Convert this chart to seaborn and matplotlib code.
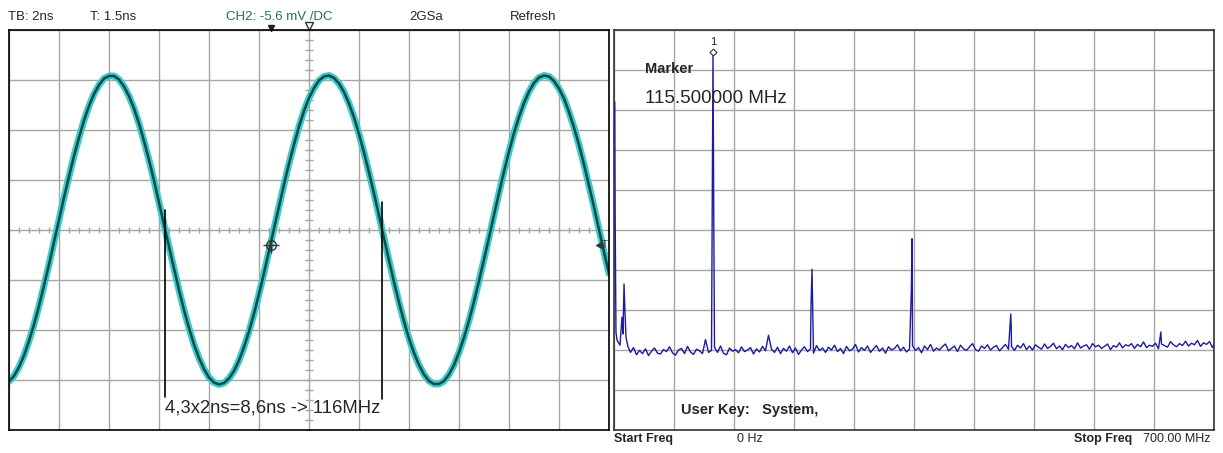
import numpy as np
import pandas as pd
import matplotlib
matplotlib.use("Agg")
import matplotlib.pyplot as plt
import seaborn as sns

# ---- scope trace, in divisions, sampled every 0.2 ns (TB 2 ns/div) ----
wave_div = [
    -3.03, -2.92, -2.74, -2.51, -2.22, -1.89, -1.52, -1.11, -0.69, -0.24,
    0.20, 0.65, 1.07, 1.48, 1.85, 2.19, 2.48, 2.72, 2.90, 3.03,
    3.08, 3.08, 3.01, 2.87, 2.68, 2.43, 2.13, 1.78, 1.40, 0.99,
    0.55, 0.11, -0.33, -0.77, -1.20, -1.60, -1.96, -2.29, -2.56, -2.78,
    -2.95, -3.05, -3.09, -3.06, -2.97, -2.82, -2.61, -2.34, -2.03, -1.67,
    -1.28, -0.86, -0.42, 0.03, 0.47, 0.91, 1.33, 1.71, 2.07, 2.38,
    2.64, 2.84, 2.99, 3.07, 3.09, 3.04, 2.93, 2.76, 2.53, 2.25,
    1.92, 1.55, 1.15, 0.73, 0.29, -0.16, -0.61, -1.04, -1.45, -1.83,
    -2.17, -2.46, -2.70, -2.89, -3.02, -3.08, -3.08, -3.02, -2.89, -2.70,
    -2.45, -2.15, -1.81, -1.43, -1.02, -0.59, -0.15, 0.30, 0.74, 1.17,
    1.57, 1.94, 2.26, 2.54, 2.77, 2.94, 3.05, 3.09, 3.07, 2.98,
    2.83, 2.63, 2.36, 2.05, 1.70, 1.31, 0.89, 0.46, 0.01, -0.44,
    -0.87,
]
wave_t = np.arange(len(wave_div)) * 0.2

cursor_t = [6.24, 14.92]
cursor_top = [0.41, 0.57]
cursor_bot = [-3.33, -3.37]

# ---- spectrum: noise floor every 3.5 MHz + peaks (dBm, 10 dB/div) ----
noise_db = [
    -80.6, -79.4, -81.2, -80.1, -80.9, -79.7, -81.4, -80.3, -79.5, -80.8, -81.0, -79.9, -80.4,
    -79.2, -80.7, -81.3, -80.0, -79.6, -80.9, -79.1, -80.5, -81.1, -79.8, -80.2, -80.9, -77.4,
    -80.6, -80.1, -79.3, -80.6, -79.0, -80.8, -81.2, -79.5, -80.3, -79.9, -80.7, -79.2, -80.4,
    -80.0, -79.4, -81.0, -79.7, -80.5, -79.1, -80.2, -76.3, -79.8, -80.6, -79.3, -80.9, -79.6,
    -80.3, -79.0, -80.7, -79.5, -81.1, -80.0, -79.2, -80.4, -79.7, -80.8, -78.9, -80.1, -79.5,
    -80.6, -79.3, -80.0, -78.8, -80.4, -79.6, -80.9, -79.1, -80.2, -79.8, -78.6, -80.5, -79.4,
    -80.1, -79.0, -80.6, -79.7, -78.9, -80.3, -79.5, -80.8, -79.2, -80.0, -79.6, -78.7, -80.2,
    -79.3, -80.5, -79.8, -78.9, -80.1, -79.4, -80.7, -79.0, -79.9, -78.6, -80.3, -79.5, -80.0,
    -79.1, -78.5, -80.2, -79.6, -79.0, -80.4, -78.8, -79.7, -80.1, -79.2, -78.4, -79.9, -80.3,
    -79.0, -79.6, -78.7, -80.0, -79.3, -78.9, -80.2, -79.4, -78.6, -79.8, -79.1, -80.1, -78.8,
    -79.5, -78.4, -79.9, -79.0, -80.0, -78.7, -79.3, -79.8, -78.5, -79.6, -79.1, -78.3, -79.7,
    -79.0, -79.9, -78.6, -79.4, -78.9, -79.7, -78.2, -79.5, -79.0, -78.7, -79.8, -78.4, -79.2,
    -78.8, -79.6, -79.1, -78.5, -79.9, -78.9, -79.3, -78.2, -79.5, -78.7, -79.0, -78.4, -79.6,
    -78.6, -79.2, -78.0, -79.4, -78.8, -79.1, -78.3, -79.7, -78.5, -78.9, -79.3, -77.9, -78.7,
    -79.2, -78.4, -78.9, -77.8, -79.0, -78.3, -78.7, -77.6, -79.1, -78.2, -78.6, -77.9, -79.4,
]
noise_mhz = 19.25 + 3.5 * np.arange(len(noise_db))

peak_mhz = [0.9, 1.3, 2.3, 3.5, 7.0, 9.3, 10.5, 11.7, 12.8, 14.0, 16.3,
            115.5, 116.3, 229.8, 231.0, 346.9, 347.7, 348.1,
            462.9, 463.5, 638.0, 700.0]
peak_db = [-18.0, -45.0, -75.5, -77.5, -78.8, -71.8, -76.0, -63.5, -70.5, -76.8, -79.2,
           -6.25, -42.5, -69.5, -59.8, -65.2, -52.2, -66.0,
           -71.0, -74.5, -75.5, -78.6]

marker_mhz = 115.5
marker_db = -5.6

spec = pd.concat([
    pd.DataFrame({"MHz": noise_mhz, "dB": noise_db}),
    pd.DataFrame({"MHz": peak_mhz, "dB": peak_db}),
]).sort_values("MHz", kind="mergesort")

sns.set_style("white")
plt.rcParams["font.family"] = ["Liberation Sans", "DejaVu Sans"]

W, H = 1223, 453
fig = plt.figure(figsize=(W / 100, H / 100), dpi=100)
ax1 = fig.add_axes([9 / W, 23 / H, 600 / W, 400 / H])
ax2 = fig.add_axes([614 / W, 23 / H, 600 / W, 400 / H])

gridc = "#a6a6a6"

# left: scope
ax1.set_xlim(0, 24)
ax1.set_ylim(-4, 4)
ax1.set_xticks(np.arange(0, 25, 2))
ax1.set_yticks(np.arange(-4, 5, 1))
ax1.grid(True, color=gridc, lw=1)
ax1.tick_params(length=0, labelbottom=False, labelleft=False)
for s in ax1.spines.values():
    s.set_color("black")
    s.set_linewidth(1.2)
# minor ticks on center lines
ax1.plot(np.arange(0, 24.01, 0.4), np.zeros(61), ls="", marker="|", ms=5, color=gridc, mew=1)
ax1.plot(np.full(41, 12.0), np.arange(-4, 4.01, 0.2), ls="", marker="_", ms=6, color=gridc, mew=1)

sns.lineplot(x=wave_t, y=wave_div, ax=ax1, color="#3ccaca", lw=5, sort=False, estimator=None)
sns.lineplot(x=wave_t, y=wave_div, ax=ax1, color="#124a4a", lw=1.8, sort=False, estimator=None)
ax1.set_xlabel("")
ax1.set_ylabel("")

for t, a, b in zip(cursor_t, cursor_top, cursor_bot):
    ax1.plot([t, t], [b, a], color="black", lw=1.2)
ax1.text(6.24, -3.56, "4,3x2ns=8,6ns -> 116MHz", fontsize=13.3, va="center", ha="left")

ax1.plot([10.48], [-0.3], marker="o", mfc="none", mec="#333333", ms=7, mew=1)
ax1.plot([10.48], [-0.3], marker="+", color="#333333", ms=11, mew=1)
ax1.plot([23.6], [-0.3], marker="<", color="#333333", ms=4)
ax1.text(23.7, -0.3, "T", fontsize=7, va="center", ha="left", color="#333333")
ax1.plot([10.48], [4.05], marker="v", color="#222222", ms=4, clip_on=False)
ax1.plot([12.0], [4.08], marker="v", mfc="white", mec="#333333", ms=6, clip_on=False)

# right: spectrum
ax2.set_xlim(0, 700)
ax2.set_ylim(-100, 0)
ax2.set_xticks(np.arange(0, 701, 70))
ax2.set_yticks(np.arange(-100, 1, 10))
ax2.grid(True, color=gridc, lw=1)
ax2.tick_params(length=0, labelbottom=False, labelleft=False)
for s in ax2.spines.values():
    s.set_color("#333333")
    s.set_linewidth(1.2)

sns.lineplot(data=spec, x="MHz", y="dB", ax=ax2, color="#1c1c9e", lw=1,
             estimator=None, sort=False, zorder=3)
ax2.set_xlabel("")
ax2.set_ylabel("")
ax2.plot([marker_mhz], [marker_db], marker="D", mfc="white", mec="#333333", ms=3.5, mew=0.8, zorder=4)
ax2.text(marker_mhz, -3.0, "1", fontsize=8, ha="center", va="center")
ax2.text(36, -9.8, "Marker", fontsize=10.5, fontweight="bold", va="center")
ax2.text(36, -17.2, "115.500000 MHz", fontsize=13.5, va="center")
ax2.text(78, -95.0, "User Key:   System,", fontsize=10.5, fontweight="bold", va="center")

# header / footer text
def ftext(x, y, s, **kw):
    fig.text(x / W, 1 - y / H, s, va="center", **kw)

ftext(8, 17, "TB: 2ns", fontsize=9.5)
ftext(90, 17, "T: 1.5ns", fontsize=9.5)
ftext(226, 17, "CH2: -5.6 mV /DC", fontsize=9.5, color="#1f6e6e")
ftext(409, 17, "2GSa", fontsize=9.5)
ftext(510, 17, "Refresh", fontsize=9.5)

ftext(614, 439, "Start Freq", fontsize=9, fontweight="bold")
ftext(737, 439, "0 Hz", fontsize=9)
ftext(1074, 439, "Stop Freq", fontsize=9, fontweight="bold")
ftext(1143, 439, "700.00 MHz", fontsize=9)

fig.savefig("out.png", dpi=100, facecolor="white")
